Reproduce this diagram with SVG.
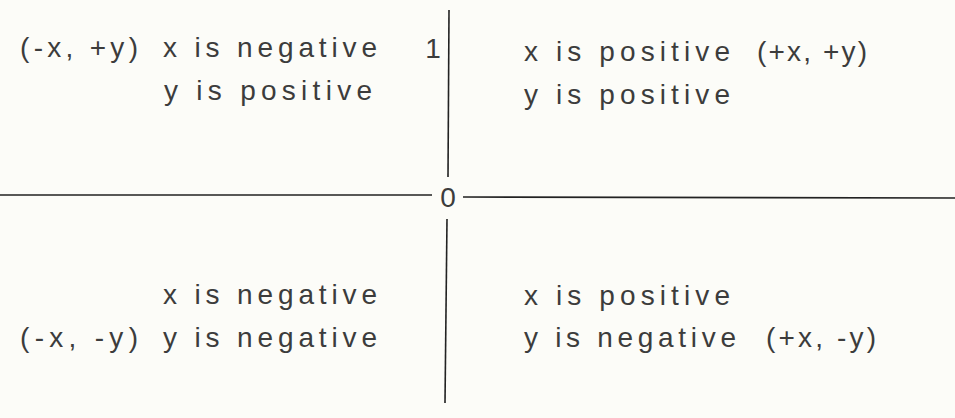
<svg xmlns="http://www.w3.org/2000/svg" width="955" height="418" viewBox="0 0 955 418">
<style>
.t{font-family:"Liberation Sans","DejaVu Sans",sans-serif;font-size:28px;fill:#3c3c3c;}
.ax{stroke:#222;stroke-width:1.6;fill:none;}
</style>
<rect x="0" y="0" width="955" height="418" fill="#fcfcf8"/>
<g id="axes">
<line class="ax" x1="0" y1="195" x2="432" y2="195"/>
<line class="ax" x1="463" y1="197" x2="955" y2="198"/>
<line class="ax" x1="449" y1="10" x2="448" y2="177"/>
<line class="ax" x1="447" y1="219" x2="445" y2="403"/>
<text class="t" x="448" y="207" text-anchor="middle" font-size="25">0</text>
<text class="t" x="433" y="58" text-anchor="middle">1</text>
</g>
<g id="q2">
<text class="t" x="20" y="57" textLength="118" lengthAdjust="spacing">(-x, +y)</text>
<text class="t" x="163" y="57" textLength="214" lengthAdjust="spacing">x is negative</text>
<text class="t" x="164" y="100" textLength="208" lengthAdjust="spacing">y is positive</text>
</g>
<g id="q1">
<text class="t" x="524" y="61" textLength="206" lengthAdjust="spacing">x is positive</text>
<text class="t" x="757" y="61" textLength="110" lengthAdjust="spacing">(+x, +y)</text>
<text class="t" x="524" y="104" textLength="206" lengthAdjust="spacing">y is positive</text>
</g>
<g id="q3">
<text class="t" x="163" y="304" textLength="214" lengthAdjust="spacing">x is negative</text>
<text class="t" x="20" y="347" textLength="118" lengthAdjust="spacing">(-x, -y)</text>
<text class="t" x="163" y="347" textLength="214" lengthAdjust="spacing">y is negative</text>
</g>
<g id="q4">
<text class="t" x="524" y="305" textLength="206" lengthAdjust="spacing">x is positive</text>
<text class="t" x="524" y="347" textLength="212" lengthAdjust="spacing">y is negative</text>
<text class="t" x="766" y="347" textLength="110" lengthAdjust="spacing">(+x, -y)</text>
</g>
</svg>
